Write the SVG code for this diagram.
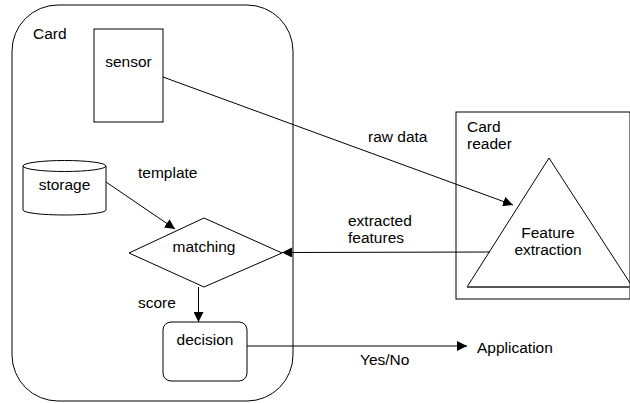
<svg xmlns="http://www.w3.org/2000/svg" width="630" height="403" viewBox="0 0 630 403">
  <style>
    text { font-family: "Liberation Sans", Arial, sans-serif; font-size: 15.5px; fill: #000; }
    .mid { text-anchor: middle; }
    .shape { fill: #fff; stroke: #000; stroke-width: 1; }
    .edge { fill: none; stroke: #000; stroke-width: 1; }
  </style>
  <defs>
    <marker id="arrow" viewBox="0 0 10 10" refX="10" refY="5" markerWidth="10" markerHeight="10" markerUnits="userSpaceOnUse" orient="auto">
      <path d="M0,0 L10,5 L0,10 Z" fill="#000"/>
    </marker>
  </defs>
  <rect width="630" height="403" fill="#fff"/>

  <!-- Card container -->
  <g id="card">
    <rect x="12" y="5" width="281" height="396" rx="46" ry="46" class="shape"/>
    <text x="33" y="39">Card</text>
  </g>

  <!-- Card reader container -->
  <g id="card-reader">
    <rect x="456" y="112" width="174" height="187" class="shape" stroke="#333"/>
    <text x="467" y="132">Card</text>
    <text x="467" y="149">reader</text>
  </g>

  <g id="sensor">
    <rect x="94" y="29" width="69" height="93" class="shape" stroke="#333"/>
    <text x="128.5" y="67" class="mid">sensor</text>
  </g>

  <g id="storage">
    <path d="M23,166 L23,210 A41.5,5 0 0 0 106,210 L106,166" class="shape"/>
    <ellipse cx="64.5" cy="166" rx="41.5" ry="5.5" class="shape"/>
    <text x="64.5" y="190" class="mid">storage</text>
  </g>

  <g id="matching">
    <polygon points="129,253 204,218 282,253 204,287" class="shape"/>
    <text x="204" y="252" class="mid">matching</text>
  </g>

  <g id="decision">
    <rect x="163" y="322" width="84" height="59" rx="8" ry="8" class="shape" stroke="#444" stroke-width="1.5"/>
    <text x="205" y="345" class="mid">decision</text>
  </g>

  <g id="feature-extraction">
    <polygon points="549,158 467,287 630,283" fill="#fff" stroke="none"/>
    <polyline points="467,287 549,158 630,283" class="edge"/>
    <line x1="467" y1="287" x2="630" y2="287" stroke="#555" stroke-width="2"/>
    <text x="548" y="238" class="mid">Feature</text>
    <text x="548" y="255" class="mid">extraction</text>
  </g>

  <g id="application">
    <text x="477" y="353">Application</text>
  </g>

  <!-- Connectors -->
  <g id="connectors">
    <line x1="163" y1="77" x2="513" y2="205" class="edge" marker-end="url(#arrow)"/>
    <line x1="106" y1="182" x2="175" y2="229" class="edge" marker-end="url(#arrow)"/>
    <line x1="490" y1="252" x2="282" y2="252.5" class="edge" marker-end="url(#arrow)"/>
    <line x1="198.5" y1="287" x2="198.5" y2="322" class="edge" marker-end="url(#arrow)"/>
    <line x1="247" y1="346" x2="467" y2="346" class="edge" marker-end="url(#arrow)"/>
    <text x="368" y="142">raw data</text>
    <text x="138" y="178">template</text>
    <text x="348" y="226">extracted</text>
    <text x="348" y="243">features</text>
    <text x="138" y="308">score</text>
    <text x="360" y="365">Yes/No</text>
  </g>
</svg>
